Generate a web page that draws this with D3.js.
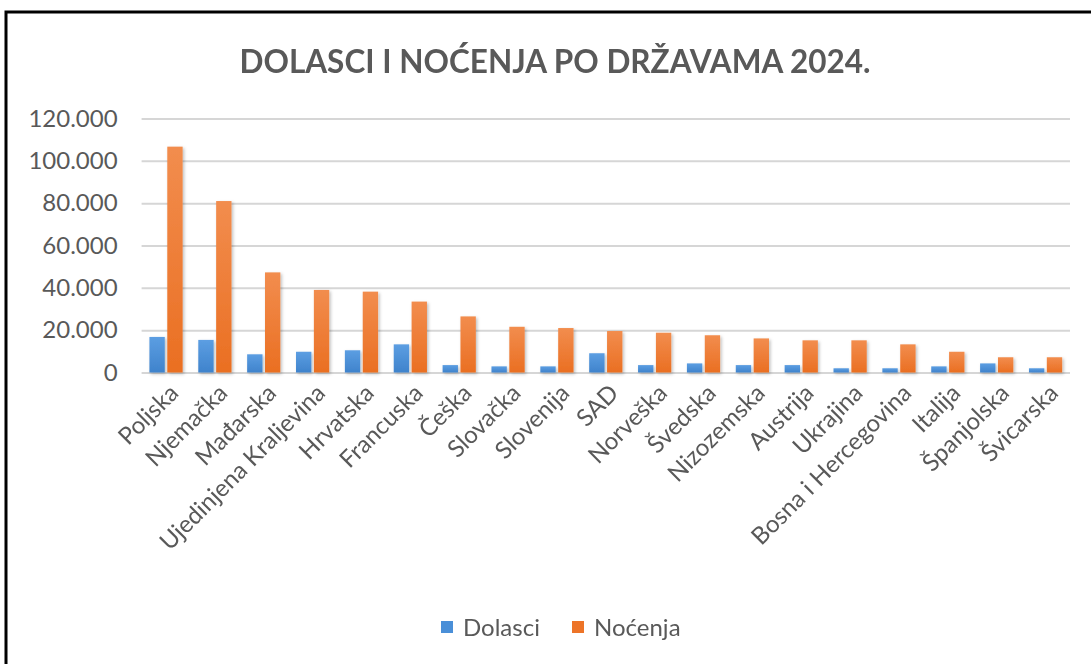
<!DOCTYPE html>
<html><head><meta charset="utf-8">
<script src="https://cdn.jsdelivr.net/npm/d3@7"></script>
<style>
html,body{margin:0;padding:0;background:#fff;}
svg{display:block;}
text{font-family:Lato,"Open Sans",sans-serif;fill:#595959;}
</style></head><body>
<svg id="chart" width="1091" height="664"></svg>
<script>
const categories = ["Poljska","Njemačka","Mađarska","Ujedinjena Kraljevina","Hrvatska","Francuska","Češka","Slovačka","Slovenija","SAD","Norveška","Švedska","Nizozemska","Austrija","Ukrajina","Bosna i Hercegovina","Italija","Španjolska","Švicarska"];
const dolasci = [16800,15400,8600,9800,10500,13300,3500,2900,2900,9100,3500,4300,3500,3500,2000,2000,2900,4300,2000];
const nocenja = [106700,81000,47300,39000,38200,33500,26500,21600,21000,19600,18800,17600,16100,15200,15200,13300,9800,7200,7200];
const seriesNames = ["Dolasci","Noćenja"];
const yTicks = [0,20000,40000,60000,80000,100000,120000];
const title = "DOLASCI I NOĆENJA PO DRŽAVAMA 2024.";

(function(){
const svg = d3.select("#chart");
const defs = svg.append("defs");
const grads = [["gBlue","#5c9ee2","#3f83cc"],["gOrange","#f28d4e","#ea6f22"]];
grads.forEach(([id,c1,c2])=>{
  const g = defs.append("linearGradient").attr("id",id).attr("x1",0).attr("y1",0).attr("x2",0).attr("y2",1);
  g.append("stop").attr("offset","0%").attr("stop-color",c1);
  g.append("stop").attr("offset","100%").attr("stop-color",c2);
});
const f = defs.append("filter").attr("id","sh").attr("x","-30%").attr("y","-10%").attr("width","160%").attr("height","130%");
f.append("feDropShadow").attr("dx",1.5).attr("dy",1.5).attr("stdDeviation",1.5).attr("flood-color","#000").attr("flood-opacity",0.25);

// frame
svg.append("rect").attr("x",6).attr("y",12).attr("width",1100).attr("height",700)
  .attr("fill","none").attr("stroke","#000").attr("stroke-width",3);

const pl = 141.6, pr = 1070, pt = 118.5, pb = 372.5;
const y = d3.scaleLinear().domain([0,120000]).range([pb, pt]);
const x0 = d3.scaleBand().domain(categories).range([pl,pr]).paddingInner(0.32).paddingOuter(0.16);
const x1 = d3.scaleBand().domain(seriesNames).range([0,x0.bandwidth()]).paddingInner(0.14);
const color = {"Dolasci":"url(#gBlue)","Noćenja":"url(#gOrange)"};
const legendColor = {"Dolasci":"#4a8fd8","Noćenja":"#ed7428"};

// gridlines
const yAxis = d3.axisLeft(y).tickValues(yTicks).tickSize(-(pr-pl)).tickPadding(24)
  .tickFormat(d => d3.format(",")(d).replace(/,/g,"."));
const ga = svg.append("g").attr("transform",`translate(${pl},0)`).call(yAxis);
ga.select(".domain").remove();
ga.selectAll(".tick line").attr("stroke","#d6d6d6").attr("stroke-width",2);
ga.selectAll(".tick text").attr("font-size",24).attr("fill","#595959").style("font-family","Lato");

// bars
const data = categories.map((c,i)=>({c, vals:[{k:"Dolasci",v:dolasci[i]},{k:"Noćenja",v:nocenja[i]}]}));
const grp = svg.append("g").attr("filter","url(#sh)");
grp.selectAll("g").data(data).join("g").attr("transform",d=>`translate(${x0(d.c)},0)`)
  .selectAll("rect").data(d=>d.vals).join("rect")
  .attr("x",d=>x1(d.k)).attr("width",x1.bandwidth())
  .attr("y",d=>y(d.v)).attr("height",d=>y(0)-y(d.v))
  .attr("fill",d=>color[d.k]);

// category labels
const xAxis = d3.axisBottom(x0).tickSize(0).tickPadding(0);
const gx = svg.append("g").attr("transform",`translate(0,${pb})`).call(xAxis);
gx.select(".domain").remove();
gx.selectAll(".tick text").attr("font-size",24).attr("fill","#595959").style("font-family","Lato")
  .attr("text-anchor","end").attr("y",0).attr("dy",0)
  .attr("transform","translate(14,22) rotate(-45)");

// title
svg.append("text").attr("x",555).attr("y",73).attr("text-anchor","middle")
  .attr("font-size",31.5).attr("font-weight","bold").attr("fill","#595959").text(title);

// legend
const lg = svg.append("g");
const legItems = [{k:"Dolasci",x:441},{k:"Noćenja",x:572}];
legItems.forEach(it=>{
  lg.append("rect").attr("x",it.x).attr("y",621).attr("width",12).attr("height",12).attr("fill",legendColor[it.k]);
  lg.append("text").attr("x",it.x+22).attr("y",636).attr("font-size",24).attr("fill","#595959").text(it.k);
});
})();
</script></body></html>
